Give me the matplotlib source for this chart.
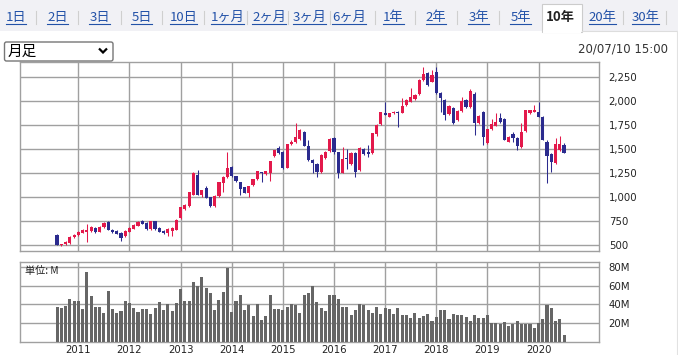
import matplotlib
matplotlib.use('Agg')
import matplotlib.pyplot as plt
from matplotlib.patches import Rectangle, FancyBboxPatch
from matplotlib.lines import Line2D
from matplotlib.transforms import Affine2D
from matplotlib.ticker import FuncFormatter
import numpy as np

# ---------------- data ----------------
tab_labels = ["1日", "2日", "3日", "5日", "10日", "1ヶ月", "2ヶ月", "3ヶ月", "6ヶ月",
              "1年", "2年", "3年", "5年", "10年", "20年", "30年"]
selected_tab = "10年"
period_select = "月足"
timestamp = "20/07/10 15:00"
volume_unit = "単位: M"
start_year, start_month = 2010, 8

opens = [604, 500, 510, 520, 580,
         600, 630, 640, 645, 680, 640, 685, 740, 660, 650, 630, 590,
         640, 670, 700, 745, 730, 670, 750, 680, 650, 620, 645, 660,
         780, 875, 910, 1025, 1225, 1025, 1095, 1000, 910, 1010, 1150, 1210,
         1315, 1215, 1155, 1100, 1045, 1120, 1185, 1260, 1235, 1255, 1425, 1510,
         1470, 1305, 1550, 1570, 1600, 1675, 1535, 1385, 1340, 1260, 1410, 1480,
         1610, 1465, 1255, 1410, 1340, 1455, 1280, 1505, 1465, 1455, 1655, 1760,
         1878, 1837, 1872, 1889, 1878, 1959, 1993, 2018, 2073, 2219, 2289, 2201,
         2306, 2087, 2011, 1865, 1924, 1802, 1899, 2011, 1935, 2073, 1774, 1889,
         1566, 1706, 1743, 1827, 1813, 1576, 1653, 1612, 1524, 1688, 1872, 1889,
         1889, 1837, 1576, 1445, 1351, 1490, 1542]
highs = [610, 515, 540, 590, 610,
         650, 665, 720, 700, 690, 695, 735, 750, 665, 655, 635, 655,
         685, 715, 745, 760, 735, 755, 755, 690, 655, 675, 685, 770,
         900, 925, 1055, 1260, 1280, 1075, 1110, 1005, 1020, 1160, 1220, 1470,
         1325, 1220, 1160, 1105, 1115, 1190, 1275, 1265, 1275, 1375, 1490, 1530,
         1480, 1555, 1590, 1770, 1710, 1690, 1595, 1395, 1350, 1445, 1480, 1610,
         1620, 1470, 1520, 1500, 1470, 1470, 1525, 1515, 1540, 1670, 1760, 1890,
         1993, 1880, 1900, 1895, 2029, 2020, 2139, 2070, 2230, 2358, 2300, 2323,
         2355, 2095, 2020, 1955, 1935, 1905, 2045, 2020, 2122, 2090, 1850, 1895,
         1710, 1813, 1872, 1872, 1820, 1635, 1681, 1620, 1774, 1910, 1910, 1959,
         1993, 1845, 1590, 1455, 1612, 1639, 1566]
lows = [495, 490, 505, 515, 570,
        595, 625, 535, 640, 630, 635, 680, 655, 630, 610, 545, 580,
        635, 665, 695, 715, 660, 660, 660, 635, 610, 590, 595, 655,
        770, 860, 900, 1020, 1020, 1000, 985, 900, 900, 1000, 1055, 1200,
        1205, 1160, 1020, 1040, 997, 1110, 1180, 1160, 1230, 1167, 1420, 1450,
        1290, 1300, 1540, 1560, 1590, 1530, 1380, 1250, 1210, 1250, 1400, 1470,
        1450, 1195, 1250, 1290, 1330, 1210, 1270, 1440, 1420, 1450, 1640, 1755,
        1850, 1830, 1865, 1733, 1870, 1950, 1985, 2010, 2065, 2210, 2160, 2195,
        2070, 1889, 1802, 1855, 1761, 1795, 1890, 1925, 1930, 1646, 1765, 1542,
        1555, 1700, 1735, 1775, 1590, 1570, 1576, 1490, 1515, 1680, 1865, 1885,
        1830, 1590, 1143, 1264, 1345, 1480, 1455]
closes = [500, 510, 535, 585, 605,
          640, 657, 652, 690, 635, 690, 730, 660, 640, 615, 570, 650,
          680, 710, 740, 720, 670, 750, 665, 640, 620, 670, 675, 765,
          895, 920, 1050, 1245, 1025, 1070, 990, 910, 1015, 1155, 1210, 1305,
          1215, 1165, 1080, 1045, 1110, 1185, 1270, 1245, 1270, 1370, 1485, 1455,
          1300, 1550, 1570, 1620, 1700, 1535, 1390, 1350, 1260, 1440, 1470, 1600,
          1465, 1255, 1400, 1395, 1455, 1260, 1515, 1450, 1445, 1665, 1750, 1885,
          1854, 1872, 1889, 1872, 1948, 2011, 2045, 2063, 2219, 2282, 2167, 2271,
          2081, 2029, 1855, 1948, 1774, 1899, 2004, 1935, 2108, 1774, 1844, 1628,
          1706, 1758, 1785, 1779, 1594, 1628, 1618, 1535, 1681, 1907, 1907, 1907,
          1837, 1594, 1430, 1368, 1549, 1549, 1462]
volumes = [37.3, 36.3, 38.4, 45.9, 43.4,
           43.4, 34.8, 74.7, 48.7, 37.3, 37.3, 30.9, 54.4, 34.8, 30.9, 32.7, 43.4,
           42.0, 36.3, 32.0, 34.8, 34.8, 29.5, 36.3, 42.3, 33.8, 40.2, 32.7, 41.2,
           56.2, 43.4, 43.4, 64.0, 59.7, 69.0, 57.2, 51.9, 34.1, 44.8, 53.3, 79.0,
           32.0, 43.7, 49.8, 34.1, 39.1, 27.4, 40.2, 23.1, 27.4, 49.8, 34.8, 34.8,
           33.8, 37.3, 40.2, 39.1, 30.6, 49.8, 51.9, 59.7, 42.3, 36.3, 32.7, 49.8,
           49.8, 45.9, 37.3, 37.3, 29.2, 33.8, 40.9, 39.1, 33.8, 31.3, 37.0, 30.2,
           36.3, 34.8, 30.2, 36.3, 29.2, 28.4, 25.6, 31.3, 25.6, 27.4, 30.2, 22.0,
           26.3, 33.8, 33.8, 24.2, 30.2, 28.4, 29.2, 26.3, 22.0, 29.2, 25.6, 25.6,
           28.4, 19.9, 20.6, 19.2, 21.7, 16.7, 18.8, 22.8, 19.2, 19.6, 19.2, 14.9,
           20.6, 24.2, 39.1, 36.3, 22.8, 24.2, 7.1]
price_ticks = [500, 750, 1000, 1250, 1500, 1750, 2000, 2250]
volume_ticks = [20, 40, 60, 80]

# ---------------- style / layout ----------------
W, H = 678, 355
RED = '#e3194b'
BLUE = '#2b2b8e'
VOLC = '#666666'
GRID = '#a0a0a0'
TXT = '#222222'
LINK = '#2352a8'
JP = ['Noto Sans CJK JP', 'DejaVu Sans']

tab_centers = [16, 57.5, 99.5, 141.5, 183.5, 227.5, 269, 309.5, 349,
               393.5, 436, 478.5, 520.5, 560, 602.5, 645.5]
separators = [36, 78, 121, 162, 204, 247, 288, 330, 375, 415, 457, 499, 623, 666]

fig = plt.figure(figsize=(W / 100, H / 100), dpi=100)
fig.patch.set_facecolor('white')
pix = Affine2D().scale(1 / W, -1 / H).translate(0, 1) + fig.transFigure


def rect(x, y, w, h, **kw):
    fig.add_artist(Rectangle((x, y), w, h, transform=pix, **kw))


def line(xs, ys, **kw):
    fig.add_artist(Line2D(xs, ys, transform=pix, **kw))


# tab bar
rect(0, 0, W, 31, facecolor='#f1f1f5', edgecolor='none')
rect(542, 4, 40, 28, facecolor='white', edgecolor='#cccccc', lw=0.8)
rect(542.6, 30, 38.8, 3, facecolor='white', edgecolor='none')
line([582, 677], [31, 31], color='#dddddd', lw=0.8)
line([677, 677], [31, H], color='#e2e2e2', lw=0.8)
for sx in separators:
    line([sx, sx], [11, 24], color='#cfcfcf', lw=0.8)

renderer = fig.canvas.get_renderer()
for lab, cx in zip(tab_labels, tab_centers):
    if lab == selected_tab:
        fig.text(cx, 17.5, lab, transform=pix, ha='center', va='center',
                 fontsize=9.5, family=JP, color=TXT, weight='bold')
    else:
        t = fig.text(cx, 17, lab, transform=pix, ha='center', va='center',
                     fontsize=9.5, family=JP, color=LINK)
        bb = t.get_window_extent(renderer)
        line([bb.x0, bb.x1], [23.5, 23.5], color=LINK, lw=0.8)

# period dropdown
fig.add_artist(FancyBboxPatch((4.5, 42), 108.5, 19, boxstyle='round,pad=0,rounding_size=2',
                              transform=pix, facecolor='white', edgecolor='#767676', lw=1.0))
fig.text(8, 52, period_select, transform=pix, ha='left', va='center',
         fontsize=10.5, family=JP, color='black')
line([99, 103, 107], [48.5, 52.5, 48.5], color='black', lw=1.6,
     solid_capstyle='butt', solid_joinstyle='miter')

fig.text(668, 49, timestamp, transform=pix, ha='right', va='center',
         fontsize=8.5, color='#333333')

# ---------------- axes ----------------
ax = fig.add_axes([20 / W, 1 - 251 / H, 579 / W, 189 / H])
axv = fig.add_axes([20 / W, 1 - 342 / H, 579 / W, 80 / H], sharex=ax)

n = len(closes)
x = np.arange(n)
months = (start_month - 1 + x) % 12 + 1
years = start_year + (start_month - 1 + x) // 12
jan_idx = x[months == 1]
jan_years = [str(y) for y in years[months == 1]]

o = np.array(opens, float)
hi = np.array(highs, float)
lo = np.array(lows, float)
c = np.array(closes, float)
cols = np.where(c >= o, RED, BLUE)

ax.vlines(x, lo, hi, colors=cols, lw=0.75, zorder=3)
ax.bar(x, np.maximum(np.abs(c - o), 5), bottom=np.minimum(o, c), width=0.74,
       color=cols, linewidth=0, zorder=4)

axv.bar(x, volumes, width=0.72, color=VOLC, linewidth=0, zorder=3)

ax.set_xlim(-8.7, 127.2)
ax.set_ylim(437.5, 2406)
axv.set_ylim(0, 85.3)

for a in (ax, axv):
    a.set_facecolor('white')
    a.set_xticks(jan_idx)
    a.grid(True, color=GRID, lw=1.0)
    a.set_axisbelow(True)
    for s in a.spines.values():
        s.set_color(GRID)
        s.set_linewidth(1.0)
    a.yaxis.tick_right()
    a.tick_params(axis='y', length=0, pad=7, labelsize=7.3, labelcolor=TXT)

ax.set_yticks(price_ticks)
ax.yaxis.set_major_formatter(FuncFormatter(lambda v, p: f'{v:,.0f}'))
ax.tick_params(axis='x', length=0, labelbottom=False)

axv.set_yticks(volume_ticks)
axv.yaxis.set_major_formatter(FuncFormatter(lambda v, p: f'{v:.0f}M'))
axv.set_xticklabels(jan_years)
axv.tick_params(axis='x', length=0, pad=2.0, labelsize=7.3, labelcolor=TXT)

fig.text(25, 270.5, volume_unit, transform=pix, ha='left', va='center',
         fontsize=7.3, family=JP, color=TXT)

fig.savefig('out.png', dpi=100, facecolor='white')
